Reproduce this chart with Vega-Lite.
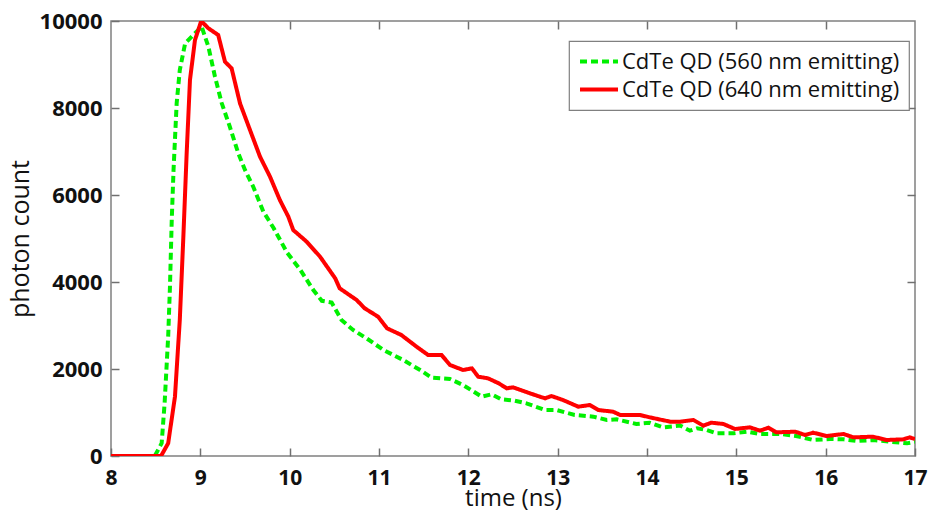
{
  "$schema": "https://vega.github.io/schema/vega-lite/v6.json",
  "width": 804,
  "height": 435,
  "autosize": {"type": "none"},
  "padding": {"left": 111, "top": 21, "right": 15, "bottom": 58},
  "background": "white",
  "config": {
    "view": {"stroke": "#808080", "strokeWidth": 1.5},
    "font": "Open Sans",
    "legend": {"strokeWidth": 1.2},
    "axis": {
      "grid": false,
      "domain": false,
      "ticks": true,
      "zindex": 1,
      "offset": -8,
      "tickColor": "#707070",
      "tickWidth": 1.5,
      "tickSize": 8,
      "labelFont": "Open Sans",
      "labelFontWeight": "bold",
      "labelFontSize": 21,
      "labelColor": "#111111",
      "titleFont": "Open Sans",
      "titleFontWeight": "normal",
      "titleFontSize": 25,
      "titleColor": "#111111"
    }
  },
  "data": {
    "values": [
      {"t": 8.0, "c": 0, "s": "CdTe QD (560 nm emitting)"},
      {"t": 8.49, "c": 0, "s": "CdTe QD (560 nm emitting)"},
      {"t": 8.567, "c": 292, "s": "CdTe QD (560 nm emitting)"},
      {"t": 8.6, "c": 1211, "s": "CdTe QD (560 nm emitting)"},
      {"t": 8.64, "c": 2743, "s": "CdTe QD (560 nm emitting)"},
      {"t": 8.66, "c": 3892, "s": "CdTe QD (560 nm emitting)"},
      {"t": 8.68, "c": 5425, "s": "CdTe QD (560 nm emitting)"},
      {"t": 8.7, "c": 6575, "s": "CdTe QD (560 nm emitting)"},
      {"t": 8.735, "c": 8108, "s": "CdTe QD (560 nm emitting)"},
      {"t": 8.77, "c": 8874, "s": "CdTe QD (560 nm emitting)"},
      {"t": 8.83, "c": 9487, "s": "CdTe QD (560 nm emitting)"},
      {"t": 8.92, "c": 9678, "s": "CdTe QD (560 nm emitting)"},
      {"t": 9.015, "c": 9870, "s": "CdTe QD (560 nm emitting)"},
      {"t": 9.09, "c": 9410, "s": "CdTe QD (560 nm emitting)"},
      {"t": 9.164, "c": 8720, "s": "CdTe QD (560 nm emitting)"},
      {"t": 9.24, "c": 8108, "s": "CdTe QD (560 nm emitting)"},
      {"t": 9.33, "c": 7570, "s": "CdTe QD (560 nm emitting)"},
      {"t": 9.425, "c": 6958, "s": "CdTe QD (560 nm emitting)"},
      {"t": 9.5, "c": 6575, "s": "CdTe QD (560 nm emitting)"},
      {"t": 9.59, "c": 6200, "s": "CdTe QD (560 nm emitting)"},
      {"t": 9.705, "c": 5620, "s": "CdTe QD (560 nm emitting)"},
      {"t": 9.82, "c": 5240, "s": "CdTe QD (560 nm emitting)"},
      {"t": 9.97, "c": 4680, "s": "CdTe QD (560 nm emitting)"},
      {"t": 10.12, "c": 4276, "s": "CdTe QD (560 nm emitting)"},
      {"t": 10.265, "c": 3816, "s": "CdTe QD (560 nm emitting)"},
      {"t": 10.36, "c": 3567, "s": "CdTe QD (560 nm emitting)"},
      {"t": 10.47, "c": 3530, "s": "CdTe QD (560 nm emitting)"},
      {"t": 10.58, "c": 3126, "s": "CdTe QD (560 nm emitting)"},
      {"t": 10.71, "c": 2897, "s": "CdTe QD (560 nm emitting)"},
      {"t": 10.86, "c": 2705, "s": "CdTe QD (560 nm emitting)"},
      {"t": 11.05, "c": 2437, "s": "CdTe QD (560 nm emitting)"},
      {"t": 11.27, "c": 2207, "s": "CdTe QD (560 nm emitting)"},
      {"t": 11.46, "c": 1977, "s": "CdTe QD (560 nm emitting)"},
      {"t": 11.59, "c": 1800, "s": "CdTe QD (560 nm emitting)"},
      {"t": 11.795, "c": 1770, "s": "CdTe QD (560 nm emitting)"},
      {"t": 11.94, "c": 1632, "s": "CdTe QD (560 nm emitting)"},
      {"t": 12.15, "c": 1364, "s": "CdTe QD (560 nm emitting)"},
      {"t": 12.26, "c": 1418, "s": "CdTe QD (560 nm emitting)"},
      {"t": 12.37, "c": 1303, "s": "CdTe QD (560 nm emitting)"},
      {"t": 12.52, "c": 1272, "s": "CdTe QD (560 nm emitting)"},
      {"t": 12.65, "c": 1211, "s": "CdTe QD (560 nm emitting)"},
      {"t": 12.86, "c": 1057, "s": "CdTe QD (560 nm emitting)"},
      {"t": 12.99, "c": 1057, "s": "CdTe QD (560 nm emitting)"},
      {"t": 13.19, "c": 943, "s": "CdTe QD (560 nm emitting)"},
      {"t": 13.4, "c": 904, "s": "CdTe QD (560 nm emitting)"},
      {"t": 13.55, "c": 828, "s": "CdTe QD (560 nm emitting)"},
      {"t": 13.66, "c": 843, "s": "CdTe QD (560 nm emitting)"},
      {"t": 13.88, "c": 736, "s": "CdTe QD (560 nm emitting)"},
      {"t": 14.03, "c": 766, "s": "CdTe QD (560 nm emitting)"},
      {"t": 14.18, "c": 659, "s": "CdTe QD (560 nm emitting)"},
      {"t": 14.37, "c": 700, "s": "CdTe QD (560 nm emitting)"},
      {"t": 14.48, "c": 582, "s": "CdTe QD (560 nm emitting)"},
      {"t": 14.56, "c": 636, "s": "CdTe QD (560 nm emitting)"},
      {"t": 14.67, "c": 598, "s": "CdTe QD (560 nm emitting)"},
      {"t": 14.78, "c": 521, "s": "CdTe QD (560 nm emitting)"},
      {"t": 14.97, "c": 521, "s": "CdTe QD (560 nm emitting)"},
      {"t": 15.12, "c": 559, "s": "CdTe QD (560 nm emitting)"},
      {"t": 15.26, "c": 506, "s": "CdTe QD (560 nm emitting)"},
      {"t": 15.49, "c": 506, "s": "CdTe QD (560 nm emitting)"},
      {"t": 15.67, "c": 460, "s": "CdTe QD (560 nm emitting)"},
      {"t": 15.86, "c": 368, "s": "CdTe QD (560 nm emitting)"},
      {"t": 16.05, "c": 390, "s": "CdTe QD (560 nm emitting)"},
      {"t": 16.2, "c": 383, "s": "CdTe QD (560 nm emitting)"},
      {"t": 16.35, "c": 345, "s": "CdTe QD (560 nm emitting)"},
      {"t": 16.53, "c": 368, "s": "CdTe QD (560 nm emitting)"},
      {"t": 16.72, "c": 329, "s": "CdTe QD (560 nm emitting)"},
      {"t": 16.91, "c": 291, "s": "CdTe QD (560 nm emitting)"},
      {"t": 17.0, "c": 329, "s": "CdTe QD (560 nm emitting)"},
      {"t": 8.0, "c": 0, "s": "CdTe QD (640 nm emitting)"},
      {"t": 8.56, "c": 0, "s": "CdTe QD (640 nm emitting)"},
      {"t": 8.64, "c": 292, "s": "CdTe QD (640 nm emitting)"},
      {"t": 8.716, "c": 1363, "s": "CdTe QD (640 nm emitting)"},
      {"t": 8.77, "c": 3126, "s": "CdTe QD (640 nm emitting)"},
      {"t": 8.81, "c": 5042, "s": "CdTe QD (640 nm emitting)"},
      {"t": 8.847, "c": 6958, "s": "CdTe QD (640 nm emitting)"},
      {"t": 8.884, "c": 8644, "s": "CdTe QD (640 nm emitting)"},
      {"t": 8.94, "c": 9563, "s": "CdTe QD (640 nm emitting)"},
      {"t": 9.01, "c": 10000, "s": "CdTe QD (640 nm emitting)"},
      {"t": 9.09, "c": 9832, "s": "CdTe QD (640 nm emitting)"},
      {"t": 9.2, "c": 9678, "s": "CdTe QD (640 nm emitting)"},
      {"t": 9.276, "c": 9064, "s": "CdTe QD (640 nm emitting)"},
      {"t": 9.35, "c": 8912, "s": "CdTe QD (640 nm emitting)"},
      {"t": 9.444, "c": 8108, "s": "CdTe QD (640 nm emitting)"},
      {"t": 9.556, "c": 7494, "s": "CdTe QD (640 nm emitting)"},
      {"t": 9.668, "c": 6881, "s": "CdTe QD (640 nm emitting)"},
      {"t": 9.78, "c": 6421, "s": "CdTe QD (640 nm emitting)"},
      {"t": 9.89, "c": 5885, "s": "CdTe QD (640 nm emitting)"},
      {"t": 9.985, "c": 5502, "s": "CdTe QD (640 nm emitting)"},
      {"t": 10.04, "c": 5195, "s": "CdTe QD (640 nm emitting)"},
      {"t": 10.19, "c": 4927, "s": "CdTe QD (640 nm emitting)"},
      {"t": 10.34, "c": 4582, "s": "CdTe QD (640 nm emitting)"},
      {"t": 10.51, "c": 4084, "s": "CdTe QD (640 nm emitting)"},
      {"t": 10.56, "c": 3854, "s": "CdTe QD (640 nm emitting)"},
      {"t": 10.75, "c": 3586, "s": "CdTe QD (640 nm emitting)"},
      {"t": 10.84, "c": 3395, "s": "CdTe QD (640 nm emitting)"},
      {"t": 10.99, "c": 3202, "s": "CdTe QD (640 nm emitting)"},
      {"t": 11.09, "c": 2935, "s": "CdTe QD (640 nm emitting)"},
      {"t": 11.25, "c": 2782, "s": "CdTe QD (640 nm emitting)"},
      {"t": 11.42, "c": 2513, "s": "CdTe QD (640 nm emitting)"},
      {"t": 11.55, "c": 2322, "s": "CdTe QD (640 nm emitting)"},
      {"t": 11.7, "c": 2322, "s": "CdTe QD (640 nm emitting)"},
      {"t": 11.795, "c": 2092, "s": "CdTe QD (640 nm emitting)"},
      {"t": 11.94, "c": 1977, "s": "CdTe QD (640 nm emitting)"},
      {"t": 12.04, "c": 2015, "s": "CdTe QD (640 nm emitting)"},
      {"t": 12.11, "c": 1823, "s": "CdTe QD (640 nm emitting)"},
      {"t": 12.22, "c": 1786, "s": "CdTe QD (640 nm emitting)"},
      {"t": 12.34, "c": 1671, "s": "CdTe QD (640 nm emitting)"},
      {"t": 12.43, "c": 1556, "s": "CdTe QD (640 nm emitting)"},
      {"t": 12.5, "c": 1579, "s": "CdTe QD (640 nm emitting)"},
      {"t": 12.69, "c": 1441, "s": "CdTe QD (640 nm emitting)"},
      {"t": 12.8, "c": 1364, "s": "CdTe QD (640 nm emitting)"},
      {"t": 12.86, "c": 1326, "s": "CdTe QD (640 nm emitting)"},
      {"t": 12.93, "c": 1379, "s": "CdTe QD (640 nm emitting)"},
      {"t": 13.06, "c": 1287, "s": "CdTe QD (640 nm emitting)"},
      {"t": 13.23, "c": 1134, "s": "CdTe QD (640 nm emitting)"},
      {"t": 13.36, "c": 1172, "s": "CdTe QD (640 nm emitting)"},
      {"t": 13.455, "c": 1057, "s": "CdTe QD (640 nm emitting)"},
      {"t": 13.62, "c": 1019, "s": "CdTe QD (640 nm emitting)"},
      {"t": 13.7, "c": 943, "s": "CdTe QD (640 nm emitting)"},
      {"t": 13.92, "c": 943, "s": "CdTe QD (640 nm emitting)"},
      {"t": 14.03, "c": 889, "s": "CdTe QD (640 nm emitting)"},
      {"t": 14.26, "c": 789, "s": "CdTe QD (640 nm emitting)"},
      {"t": 14.37, "c": 789, "s": "CdTe QD (640 nm emitting)"},
      {"t": 14.52, "c": 828, "s": "CdTe QD (640 nm emitting)"},
      {"t": 14.63, "c": 697, "s": "CdTe QD (640 nm emitting)"},
      {"t": 14.72, "c": 766, "s": "CdTe QD (640 nm emitting)"},
      {"t": 14.855, "c": 736, "s": "CdTe QD (640 nm emitting)"},
      {"t": 14.985, "c": 621, "s": "CdTe QD (640 nm emitting)"},
      {"t": 15.15, "c": 659, "s": "CdTe QD (640 nm emitting)"},
      {"t": 15.265, "c": 582, "s": "CdTe QD (640 nm emitting)"},
      {"t": 15.36, "c": 651, "s": "CdTe QD (640 nm emitting)"},
      {"t": 15.45, "c": 544, "s": "CdTe QD (640 nm emitting)"},
      {"t": 15.66, "c": 559, "s": "CdTe QD (640 nm emitting)"},
      {"t": 15.77, "c": 483, "s": "CdTe QD (640 nm emitting)"},
      {"t": 15.86, "c": 536, "s": "CdTe QD (640 nm emitting)"},
      {"t": 16.01, "c": 460, "s": "CdTe QD (640 nm emitting)"},
      {"t": 16.2, "c": 506, "s": "CdTe QD (640 nm emitting)"},
      {"t": 16.31, "c": 429, "s": "CdTe QD (640 nm emitting)"},
      {"t": 16.53, "c": 444, "s": "CdTe QD (640 nm emitting)"},
      {"t": 16.68, "c": 368, "s": "CdTe QD (640 nm emitting)"},
      {"t": 16.87, "c": 383, "s": "CdTe QD (640 nm emitting)"},
      {"t": 16.94, "c": 429, "s": "CdTe QD (640 nm emitting)"},
      {"t": 17.0, "c": 390, "s": "CdTe QD (640 nm emitting)"}
    ]
  },
  "layer": [
    {
      "mark": {"type": "line", "opacity": 0},
      "encoding": {
        "x": {"field": "t", "type": "quantitative", "scale": {"domain": [8, 17], "nice": false, "zero": false},
              "axis": {"orient": "top", "labels": false, "title": null, "values": [9, 10, 11, 12, 13, 14, 15, 16]}},
        "y": {"field": "c", "type": "quantitative", "scale": {"domain": [0, 10000], "nice": false},
              "axis": {"orient": "right", "labels": false, "title": null, "values": [2000, 4000, 6000, 8000]}},
        "detail": {"field": "s"}
      }
    },
    {
      "mark": {"type": "line", "strokeWidth": 4, "clip": true},
      "encoding": {
        "x": {"field": "t", "type": "quantitative", "scale": {"domain": [8, 17], "nice": false, "zero": false},
              "axis": {"orient": "bottom", "title": "time (ns)", "values": [8, 9, 10, 11, 12, 13, 14, 15, 16, 17], "labelPadding": 11, "titlePadding": -2, "titleFontSize": 24, "labelFlush": false}},
        "y": {"field": "c", "type": "quantitative", "scale": {"domain": [0, 10000], "nice": false},
              "axis": {"orient": "left", "title": "photon count", "format": "d", "values": [0, 2000, 4000, 6000, 8000, 10000], "labelPadding": 9, "labelFontSize": 22, "titlePadding": 6, "labelFlush": false}},
        "color": {"field": "s", "type": "nominal", "scale": {"range": ["#00f000", "#ff0000"]},
                  "legend": {"title": null, "orient": "none", "legendX": 458, "legendY": 20, "strokeColor": "#808080", "fillColor": "white", "padding": 9,
                             "symbolType": "M-1,0H3", "symbolSize": 361, "symbolStrokeWidth": 4, "labelFont": "Open Sans", "labelFontSize": 22, "labelLimit": 0, "labelColor": "#111111", "rowPadding": 5, "labelOffset": 21}},
        "strokeDash": {"field": "s", "type": "nominal", "scale": {"range": [[7, 4], [1, 0]]}, "legend": null}
      }
    }
  ],
  "resolve": {"axis": {"x": "independent", "y": "independent"}}
}
